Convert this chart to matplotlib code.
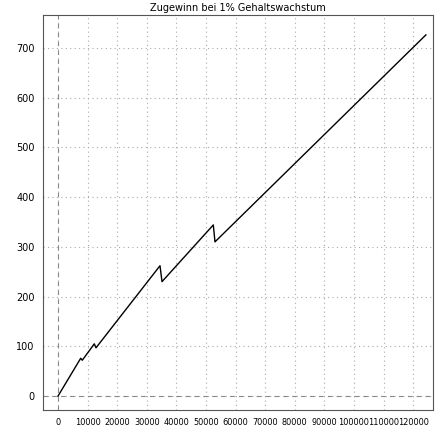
import matplotlib
matplotlib.use('Agg')
import matplotlib.pyplot as plt

salary = [0, 7670, 8200, 12260, 12840, 34460, 35140, 52470, 53040, 124300]
gain = [0, 76, 72, 105, 97, 262, 230, 344, 310, 726]
x_ticks = list(range(0, 120001, 10000))
y_ticks = list(range(0, 701, 100))

fig = plt.figure(figsize=(4.48, 4.48), dpi=100)
ax = fig.add_axes([43 / 448, 38 / 448, 390 / 448, 395 / 448])

ax.plot(salary, gain, color='black', linewidth=1)
ax.set_xlim(-5070, 126700)
ax.set_ylim(-28, 766)
ax.set_xticks(x_ticks)
ax.set_xticklabels([str(t) for t in x_ticks], fontsize=5.9)
ax.set_yticks(y_ticks)
ax.set_yticklabels([str(t) for t in y_ticks], fontsize=7)
ax.tick_params(length=0, pad=6)
ax.grid(True, linestyle=(0, (1, 3)), color='#aaaaaa', linewidth=0.8)
ax.axhline(0, color='#888888', linestyle=(0, (4, 4)), linewidth=0.8)
ax.axvline(0, color='#888888', linestyle=(0, (4, 4)), linewidth=0.8)
for s in ax.spines.values():
    s.set_color('#555555')
    s.set_linewidth(0.8)
ax.set_title('Zugewinn bei 1% Gehaltswachstum', fontsize=7, pad=3)

fig.savefig('out.png', dpi=100)
